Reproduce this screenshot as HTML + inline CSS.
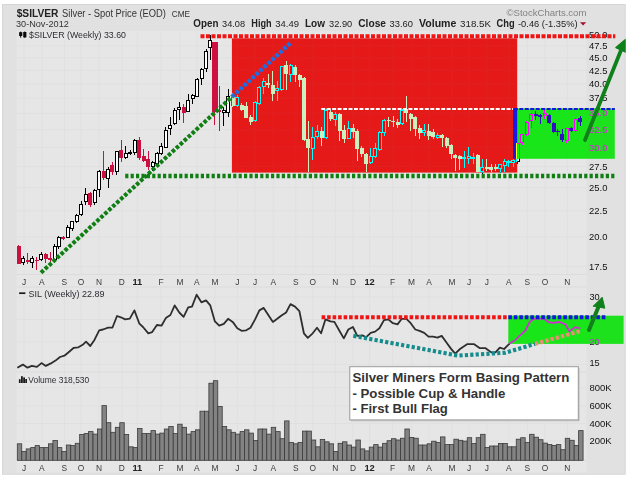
<!DOCTYPE html>
<html><head><meta charset="utf-8"><title>$SILVER</title>
<style>
html,body{margin:0;padding:0;background:#fff;}
body{width:629px;height:480px;overflow:hidden;font-family:"Liberation Sans",sans-serif;}
svg{display:block;isolation:isolate;font-family:"Liberation Sans",sans-serif;}
</style></head><body>
<svg width="629" height="480" viewBox="0 0 629 480">
<rect x="0" y="0" width="629" height="480" fill="#fff"/>
<rect x="2.5" y="4.5" width="622.7" height="469.7" fill="#e1e1e1" stroke="#d6d6d6" stroke-width="1"/>
<rect x="16.5" y="30.8" width="570.0" height="441.7" fill="#e6e6e6"/>
<path d="M24.0 31V274.5M24.0 287V460.5M41.7 31V274.5M41.7 287V460.5M64.4 31V274.5M64.4 287V460.5M81.0 31V274.5M81.0 287V460.5M99.0 31V274.5M99.0 287V460.5M121.7 31V274.5M121.7 287V460.5M137.3 31V274.5M137.3 287V460.5M161.0 31V274.5M161.0 287V460.5M180.0 31V274.5M180.0 287V460.5M196.7 31V274.5M196.7 287V460.5M215.0 31V274.5M215.0 287V460.5M237.4 31V274.5M237.4 287V460.5M255.0 31V274.5M255.0 287V460.5M273.4 31V274.5M273.4 287V460.5M295.8 31V274.5M295.8 287V460.5M312.8 31V274.5M312.8 287V460.5M335.2 31V274.5M335.2 287V460.5M353.0 31V274.5M353.0 287V460.5M369.6 31V274.5M369.6 287V460.5M392.6 31V274.5M392.6 287V460.5M411.6 31V274.5M411.6 287V460.5M429.0 31V274.5M429.0 287V460.5M452.0 31V274.5M452.0 287V460.5M469.0 31V274.5M469.0 287V460.5M486.8 31V274.5M486.8 287V460.5M508.8 31V274.5M508.8 287V460.5M527.4 31V274.5M527.4 287V460.5M545.0 31V274.5M545.0 287V460.5M567.4 31V274.5M567.4 287V460.5M16.5 45.7H586.5M16.5 57.7H586.5M16.5 70.3H586.5M16.5 83.7H586.5M16.5 98.0H586.5M16.5 113.2H586.5M16.5 129.6H586.5M16.5 147.3H586.5M16.5 166.5H586.5M16.5 187.6H586.5M16.5 210.9H586.5M16.5 236.9H586.5M16.5 266.4H586.5M16.5 297H586.5M16.5 319.5H586.5M16.5 342H586.5M16.5 364.5H586.5M16.5 387.6H586.5M16.5 406H586.5M16.5 423.5H586.5M16.5 441.1H586.5" stroke="#e0e0e0" stroke-width="1" fill="none"/>
<path d="M16.5 274.5H586.5M16.5 287H586.5M16.5 372H586.5M16.5 460.5H586.5" stroke="#dcdcdc" stroke-width="1" fill="none"/>
<g fill="#838383" stroke="#3a3a3a" stroke-width="0.8"><rect x="17.30" y="443.8" width="4.455" height="16.5"/><rect x="21.76" y="451.4" width="4.455" height="8.9"/><rect x="26.21" y="448.9" width="4.455" height="11.4"/><rect x="30.66" y="447.6" width="4.455" height="12.7"/><rect x="35.12" y="445.6" width="4.455" height="14.7"/><rect x="39.58" y="447.6" width="4.455" height="12.7"/><rect x="44.03" y="447.6" width="4.455" height="12.7"/><rect x="48.48" y="443.8" width="4.455" height="16.5"/><rect x="52.94" y="440.5" width="4.455" height="19.8"/><rect x="57.39" y="447.6" width="4.455" height="12.7"/><rect x="61.85" y="451.4" width="4.455" height="8.9"/><rect x="66.31" y="445.0" width="4.455" height="15.3"/><rect x="70.76" y="445.6" width="4.455" height="14.7"/><rect x="75.22" y="443.3" width="4.455" height="17.0"/><rect x="79.67" y="434.4" width="4.455" height="25.9"/><rect x="84.12" y="433.6" width="4.455" height="26.7"/><rect x="88.58" y="431.6" width="4.455" height="28.7"/><rect x="93.03" y="434.1" width="4.455" height="26.2"/><rect x="97.49" y="429.0" width="4.455" height="31.3"/><rect x="101.94" y="405.6" width="4.455" height="54.7"/><rect x="106.40" y="422.7" width="4.455" height="37.6"/><rect x="110.86" y="432.3" width="4.455" height="28.0"/><rect x="115.31" y="427.3" width="4.455" height="33.0"/><rect x="119.77" y="422.7" width="4.455" height="37.6"/><rect x="124.22" y="434.4" width="4.455" height="25.9"/><rect x="128.68" y="446.8" width="4.455" height="13.5"/><rect x="133.13" y="447.6" width="4.455" height="12.7"/><rect x="137.59" y="428.5" width="4.455" height="31.8"/><rect x="142.04" y="433.6" width="4.455" height="26.7"/><rect x="146.50" y="433.6" width="4.455" height="26.7"/><rect x="150.95" y="430.6" width="4.455" height="29.7"/><rect x="155.41" y="434.1" width="4.455" height="26.2"/><rect x="159.86" y="433.1" width="4.455" height="27.2"/><rect x="164.32" y="429.0" width="4.455" height="31.3"/><rect x="168.77" y="426.5" width="4.455" height="33.8"/><rect x="173.23" y="433.6" width="4.455" height="26.7"/><rect x="177.68" y="424.2" width="4.455" height="36.1"/><rect x="182.14" y="427.3" width="4.455" height="33.0"/><rect x="186.59" y="434.1" width="4.455" height="26.2"/><rect x="191.05" y="431.6" width="4.455" height="28.7"/><rect x="195.50" y="429.8" width="4.455" height="30.5"/><rect x="199.96" y="411.2" width="4.455" height="49.1"/><rect x="204.41" y="411.2" width="4.455" height="49.1"/><rect x="208.87" y="383.2" width="4.455" height="77.1"/><rect x="213.32" y="380.7" width="4.455" height="79.6"/><rect x="217.78" y="406.4" width="4.455" height="53.9"/><rect x="222.23" y="426.5" width="4.455" height="33.8"/><rect x="226.69" y="429.8" width="4.455" height="30.5"/><rect x="231.14" y="432.3" width="4.455" height="28.0"/><rect x="235.60" y="434.1" width="4.455" height="26.2"/><rect x="240.05" y="431.6" width="4.455" height="28.7"/><rect x="244.51" y="429.8" width="4.455" height="30.5"/><rect x="248.96" y="433.1" width="4.455" height="27.2"/><rect x="253.42" y="440.5" width="4.455" height="19.8"/><rect x="257.87" y="429.0" width="4.455" height="31.3"/><rect x="262.32" y="429.0" width="4.455" height="31.3"/><rect x="266.78" y="434.1" width="4.455" height="26.2"/><rect x="271.24" y="427.3" width="4.455" height="33.0"/><rect x="275.69" y="431.6" width="4.455" height="28.7"/><rect x="280.15" y="438.7" width="4.455" height="21.6"/><rect x="284.60" y="420.9" width="4.455" height="39.4"/><rect x="289.06" y="442.5" width="4.455" height="17.8"/><rect x="293.51" y="443.8" width="4.455" height="16.5"/><rect x="297.97" y="442.5" width="4.455" height="17.8"/><rect x="302.42" y="431.1" width="4.455" height="29.2"/><rect x="306.88" y="431.1" width="4.455" height="29.2"/><rect x="311.33" y="440.0" width="4.455" height="20.3"/><rect x="315.79" y="446.8" width="4.455" height="13.5"/><rect x="320.24" y="439.5" width="4.455" height="20.8"/><rect x="324.69" y="441.8" width="4.455" height="18.5"/><rect x="329.15" y="443.8" width="4.455" height="16.5"/><rect x="333.61" y="451.4" width="4.455" height="8.9"/><rect x="338.06" y="443.3" width="4.455" height="17.0"/><rect x="342.52" y="441.8" width="4.455" height="18.5"/><rect x="346.97" y="445.0" width="4.455" height="15.3"/><rect x="351.43" y="447.1" width="4.455" height="13.2"/><rect x="355.88" y="440.0" width="4.455" height="20.3"/><rect x="360.34" y="448.9" width="4.455" height="11.4"/><rect x="364.79" y="450.9" width="4.455" height="9.4"/><rect x="369.25" y="447.1" width="4.455" height="13.2"/><rect x="373.70" y="444.6" width="4.455" height="15.7"/><rect x="378.16" y="447.1" width="4.455" height="13.2"/><rect x="382.61" y="443.3" width="4.455" height="17.0"/><rect x="387.06" y="440.7" width="4.455" height="19.6"/><rect x="391.52" y="438.7" width="4.455" height="21.6"/><rect x="395.98" y="440.0" width="4.455" height="20.3"/><rect x="400.43" y="438.2" width="4.455" height="22.1"/><rect x="404.88" y="429.0" width="4.455" height="31.3"/><rect x="409.34" y="437.4" width="4.455" height="22.9"/><rect x="413.80" y="438.2" width="4.455" height="22.1"/><rect x="418.25" y="445.0" width="4.455" height="15.3"/><rect x="422.71" y="445.0" width="4.455" height="15.3"/><rect x="427.16" y="443.8" width="4.455" height="16.5"/><rect x="431.62" y="441.2" width="4.455" height="19.1"/><rect x="436.07" y="442.5" width="4.455" height="17.8"/><rect x="440.53" y="436.9" width="4.455" height="23.4"/><rect x="444.98" y="444.6" width="4.455" height="15.7"/><rect x="449.44" y="444.6" width="4.455" height="15.7"/><rect x="453.89" y="439.2" width="4.455" height="21.1"/><rect x="458.35" y="440.3" width="4.455" height="20.0"/><rect x="462.80" y="441.1" width="4.455" height="19.2"/><rect x="467.25" y="437.7" width="4.455" height="22.6"/><rect x="471.71" y="443.4" width="4.455" height="16.9"/><rect x="476.17" y="437.7" width="4.455" height="22.6"/><rect x="480.62" y="434.3" width="4.455" height="26.0"/><rect x="485.08" y="447.4" width="4.455" height="12.9"/><rect x="489.53" y="446.0" width="4.455" height="14.3"/><rect x="493.99" y="446.0" width="4.455" height="14.3"/><rect x="498.44" y="443.4" width="4.455" height="16.9"/><rect x="502.90" y="443.4" width="4.455" height="16.9"/><rect x="507.35" y="446.8" width="4.455" height="13.5"/><rect x="511.81" y="446.8" width="4.455" height="13.5"/><rect x="516.26" y="439.2" width="4.455" height="21.1"/><rect x="520.72" y="437.7" width="4.455" height="22.6"/><rect x="525.17" y="442.6" width="4.455" height="17.7"/><rect x="529.62" y="434.3" width="4.455" height="26.0"/><rect x="534.08" y="437.2" width="4.455" height="23.1"/><rect x="538.53" y="439.7" width="4.455" height="20.6"/><rect x="542.99" y="443.1" width="4.455" height="17.2"/><rect x="547.44" y="444.6" width="4.455" height="15.7"/><rect x="551.90" y="445.4" width="4.455" height="14.9"/><rect x="556.36" y="444.6" width="4.455" height="15.7"/><rect x="560.81" y="449.7" width="4.455" height="10.6"/><rect x="565.26" y="438.3" width="4.455" height="22.0"/><rect x="569.72" y="440.3" width="4.455" height="20.0"/><rect x="574.17" y="445.4" width="4.455" height="14.9"/><rect x="578.63" y="430.6" width="4.455" height="29.7"/></g>
<g shape-rendering="crispEdges"><path d="M18.90 245.0V264.0" stroke="#cc1040" stroke-width="1"/><rect x="16.90" y="246.4" width="4.0" height="17.2" fill="#cc1040"/><path d="M23.35 256.0V258.5M23.35 262.0V265.0" stroke="#000" stroke-width="1"/><rect x="21.85" y="258.5" width="3.0" height="3.5" fill="#fff" stroke="#000" stroke-width="1"/><path d="M27.81 253.0V264.0" stroke="#cc1040" stroke-width="1"/><rect x="25.81" y="260.0" width="4.0" height="2.0" fill="#cc1040"/><path d="M32.27 256.0V258.5M32.27 262.0V268.0" stroke="#000" stroke-width="1"/><rect x="30.77" y="258.5" width="3.0" height="3.5" fill="#fff" stroke="#000" stroke-width="1"/><path d="M36.72 257.0V270.0" stroke="#cc1040" stroke-width="1"/><rect x="34.72" y="260.0" width="4.0" height="1.3" fill="#cc1040"/><path d="M41.17 252.0V254.4M41.17 259.7V260.5" stroke="#000" stroke-width="1"/><rect x="39.67" y="254.4" width="3.0" height="5.3" fill="#fff" stroke="#000" stroke-width="1"/><path d="M45.63 253.0V263.0" stroke="#cc1040" stroke-width="1"/><rect x="43.63" y="254.0" width="4.0" height="5.0" fill="#cc1040"/><path d="M50.09 252.0V262.0" stroke="#cc1040" stroke-width="1"/><rect x="48.09" y="258.0" width="4.0" height="2.3" fill="#cc1040"/><path d="M54.54 244.0V246.9M54.54 259.0V260.0" stroke="#000" stroke-width="1"/><rect x="53.04" y="246.9" width="3.0" height="12.1" fill="#fff" stroke="#000" stroke-width="1"/><path d="M58.99 236.0V237.2M58.99 246.4V249.0" stroke="#000" stroke-width="1"/><rect x="57.49" y="237.2" width="3.0" height="9.2" fill="#fff" stroke="#000" stroke-width="1"/><path d="M63.45 236.0V240.0" stroke="#cc1040" stroke-width="1"/><rect x="61.45" y="237.0" width="4.0" height="1.5" fill="#cc1040"/><path d="M67.91 225.0V227.6M67.91 237.2V238.0" stroke="#000" stroke-width="1"/><rect x="66.41" y="227.6" width="3.0" height="9.6" fill="#fff" stroke="#000" stroke-width="1"/><path d="M72.36 221.0V221.9M72.36 228.0V231.0" stroke="#000" stroke-width="1"/><rect x="70.86" y="221.9" width="3.0" height="6.1" fill="#fff" stroke="#000" stroke-width="1"/><path d="M76.81 214.0V215.5M76.81 221.2V223.0" stroke="#000" stroke-width="1"/><rect x="75.31" y="215.5" width="3.0" height="5.7" fill="#fff" stroke="#000" stroke-width="1"/><path d="M81.27 201.0V204.0M81.27 214.3V216.0" stroke="#000" stroke-width="1"/><rect x="79.77" y="204.0" width="3.0" height="10.3" fill="#fff" stroke="#000" stroke-width="1"/><path d="M85.72 188.0V194.2M85.72 201.8V205.0" stroke="#000" stroke-width="1"/><rect x="84.22" y="194.2" width="3.0" height="7.6" fill="#fff" stroke="#000" stroke-width="1"/><path d="M90.18 192.0V207.0" stroke="#cc1040" stroke-width="1"/><rect x="88.18" y="193.3" width="4.0" height="11.4" fill="#cc1040"/><path d="M94.63 189.0V190.5M94.63 202.5V205.0" stroke="#000" stroke-width="1"/><rect x="93.13" y="190.5" width="3.0" height="12.0" fill="#fff" stroke="#000" stroke-width="1"/><path d="M99.09 170.0V171.8M99.09 189.7V196.6" stroke="#000" stroke-width="1"/><rect x="97.59" y="171.8" width="3.0" height="17.9" fill="#fff" stroke="#000" stroke-width="1"/><path d="M103.54 151.2V180.0" stroke="#cc1040" stroke-width="1"/><rect x="101.54" y="171.4" width="4.0" height="6.8" fill="#cc1040"/><path d="M108.00 167.0V169.2M108.00 178.7V187.9" stroke="#000" stroke-width="1"/><rect x="106.50" y="169.2" width="3.0" height="9.5" fill="#fff" stroke="#000" stroke-width="1"/><path d="M112.46 162.2V175.3" stroke="#cc1040" stroke-width="1"/><rect x="110.46" y="164.5" width="4.0" height="7.8" fill="#cc1040"/><path d="M116.91 150.8V151.9M116.91 171.8V174.6" stroke="#000" stroke-width="1"/><rect x="115.41" y="151.9" width="3.0" height="19.9" fill="#fff" stroke="#000" stroke-width="1"/><path d="M121.37 140.2V162.2" stroke="#cc1040" stroke-width="1"/><rect x="119.37" y="150.0" width="4.0" height="7.6" fill="#cc1040"/><path d="M125.82 146.2V153.5M125.82 157.4V159.2" stroke="#000" stroke-width="1"/><rect x="124.32" y="153.5" width="3.0" height="3.9" fill="#fff" stroke="#000" stroke-width="1"/><path d="M130.28 150.0V152.0M130.28 153.2V155.3" stroke="#000" stroke-width="1"/><rect x="128.78" y="152.0" width="3.0" height="1.2" fill="#fff" stroke="#000" stroke-width="1"/><path d="M134.73 139.0V140.2M134.73 152.8V155.0" stroke="#000" stroke-width="1"/><rect x="133.23" y="140.2" width="3.0" height="12.6" fill="#fff" stroke="#000" stroke-width="1"/><path d="M139.19 137.0V160.0" stroke="#cc1040" stroke-width="1"/><rect x="137.19" y="139.8" width="4.0" height="17.8" fill="#cc1040"/><path d="M143.64 148.5V162.2" stroke="#cc1040" stroke-width="1"/><rect x="141.64" y="155.8" width="4.0" height="5.0" fill="#cc1040"/><path d="M148.09 151.2V170.0" stroke="#cc1040" stroke-width="1"/><rect x="146.09" y="158.5" width="4.0" height="8.7" fill="#cc1040"/><path d="M152.55 161.0V162.7M152.55 166.6V171.4" stroke="#000" stroke-width="1"/><rect x="151.05" y="162.7" width="3.0" height="3.9" fill="#fff" stroke="#000" stroke-width="1"/><path d="M157.00 152.0V153.5M157.00 163.1V167.2" stroke="#000" stroke-width="1"/><rect x="155.50" y="153.5" width="3.0" height="9.6" fill="#fff" stroke="#000" stroke-width="1"/><path d="M161.46 143.2V146.2M161.46 153.5V155.0" stroke="#000" stroke-width="1"/><rect x="159.96" y="146.2" width="3.0" height="7.3" fill="#fff" stroke="#000" stroke-width="1"/><path d="M165.92 127.2V130.2M165.92 147.1V148.0" stroke="#000" stroke-width="1"/><rect x="164.42" y="130.2" width="3.0" height="16.9" fill="#fff" stroke="#000" stroke-width="1"/><path d="M170.37 117.0V125.8M170.37 128.0V134.5" stroke="#000" stroke-width="1"/><rect x="168.87" y="125.8" width="3.0" height="2.2" fill="#fff" stroke="#000" stroke-width="1"/><path d="M174.83 108.0V110.2M174.83 123.8V125.0" stroke="#000" stroke-width="1"/><rect x="173.33" y="110.2" width="3.0" height="13.6" fill="#fff" stroke="#000" stroke-width="1"/><path d="M179.28 101.9V107.0M179.28 109.2V120.0" stroke="#000" stroke-width="1"/><rect x="177.78" y="107.0" width="3.0" height="2.2" fill="#fff" stroke="#000" stroke-width="1"/><path d="M183.74 103.5V122.5" stroke="#cc1040" stroke-width="1"/><rect x="181.74" y="107.0" width="4.0" height="6.0" fill="#cc1040"/><path d="M188.19 93.5V100.4M188.19 111.3V112.0" stroke="#000" stroke-width="1"/><rect x="186.69" y="100.4" width="3.0" height="10.9" fill="#fff" stroke="#000" stroke-width="1"/><path d="M192.65 94.2V95.6M192.65 98.3V104.0" stroke="#000" stroke-width="1"/><rect x="191.15" y="95.6" width="3.0" height="2.7" fill="#fff" stroke="#000" stroke-width="1"/><path d="M197.10 77.9V79.6M197.10 96.3V97.0" stroke="#000" stroke-width="1"/><rect x="195.60" y="79.6" width="3.0" height="16.7" fill="#fff" stroke="#000" stroke-width="1"/><path d="M201.56 67.5V69.2M201.56 78.3V84.6" stroke="#000" stroke-width="1"/><rect x="200.06" y="69.2" width="3.0" height="9.1" fill="#fff" stroke="#000" stroke-width="1"/><path d="M206.01 49.2V51.5M206.01 68.1V71.7" stroke="#000" stroke-width="1"/><rect x="204.51" y="51.5" width="3.0" height="16.6" fill="#fff" stroke="#000" stroke-width="1"/><path d="M210.47 34.6V40.4M210.47 47.3V60.2" stroke="#000" stroke-width="1"/><rect x="208.97" y="40.4" width="3.0" height="6.9" fill="#fff" stroke="#000" stroke-width="1"/><path d="M214.92 42.0V124.8" stroke="#cc1040" stroke-width="1"/><rect x="212.32" y="42.1" width="5.2" height="69.6" fill="#cc1040"/><path d="M219.38 86.2V130.6" stroke="#cc1040" stroke-width="1"/><rect x="217.38" y="110.0" width="4.0" height="2.0" fill="#cc1040"/><path d="M223.83 106.9V110.7M223.83 112.2V126.3" stroke="#000" stroke-width="1"/><rect x="222.33" y="110.7" width="3.0" height="1.5" fill="#fff" stroke="#000" stroke-width="1"/><path d="M228.28 89.4V96.3M228.28 112.9V117.0" stroke="#000" stroke-width="1"/><rect x="226.78" y="96.3" width="3.0" height="16.6" fill="#fff" stroke="#000" stroke-width="1"/><path d="M232.74 93.0V107.0" stroke="#cc1040" stroke-width="1"/><rect x="230.74" y="97.0" width="4.0" height="9.0" fill="#cc1040"/><path d="M237.20 95.0V97.0M237.20 105.0V107.0" stroke="#000" stroke-width="1"/><rect x="235.70" y="97.0" width="3.0" height="8.0" fill="#fff" stroke="#000" stroke-width="1"/><path d="M241.65 103.0V111.0" stroke="#cc1040" stroke-width="1"/><rect x="239.65" y="105.0" width="4.0" height="4.7" fill="#cc1040"/><path d="M246.11 102.0V118.0" stroke="#cc1040" stroke-width="1"/><rect x="244.11" y="106.0" width="4.0" height="11.5" fill="#cc1040"/><path d="M250.56 115.0V125.3" stroke="#cc1040" stroke-width="1"/><rect x="248.56" y="116.9" width="4.0" height="5.3" fill="#cc1040"/><path d="M255.02 101.0V102.5M255.02 120.6V122.0" stroke="#000" stroke-width="1"/><rect x="253.52" y="102.5" width="3.0" height="18.1" fill="#fff" stroke="#000" stroke-width="1"/><path d="M259.47 86.0V87.2M259.47 103.4V105.0" stroke="#000" stroke-width="1"/><rect x="257.97" y="87.2" width="3.0" height="16.2" fill="#fff" stroke="#000" stroke-width="1"/><path d="M263.93 78.4V81.6M263.93 86.9V94.0" stroke="#000" stroke-width="1"/><rect x="262.43" y="81.6" width="3.0" height="5.3" fill="#fff" stroke="#000" stroke-width="1"/><path d="M268.38 73.8V88.0" stroke="#cc1040" stroke-width="1"/><rect x="266.38" y="82.5" width="4.0" height="2.5" fill="#cc1040"/><path d="M272.83 70.6V101.2" stroke="#cc1040" stroke-width="1"/><rect x="270.83" y="84.7" width="4.0" height="9.3" fill="#cc1040"/><path d="M277.29 80.8V88.3M277.29 90.0V100.8" stroke="#000" stroke-width="1"/><rect x="275.79" y="88.3" width="3.0" height="1.7" fill="#fff" stroke="#000" stroke-width="1"/><path d="M281.75 65.5V66.9M281.75 89.4V91.0" stroke="#000" stroke-width="1"/><rect x="280.25" y="66.9" width="3.0" height="22.5" fill="#fff" stroke="#000" stroke-width="1"/><path d="M286.20 60.8V90.0" stroke="#cc1040" stroke-width="1"/><rect x="284.20" y="64.8" width="4.0" height="8.7" fill="#cc1040"/><path d="M290.65 64.0V65.8M290.65 74.3V81.7" stroke="#000" stroke-width="1"/><rect x="289.15" y="65.8" width="3.0" height="8.5" fill="#fff" stroke="#000" stroke-width="1"/><path d="M295.11 65.0V81.7" stroke="#cc1040" stroke-width="1"/><rect x="293.11" y="66.8" width="4.0" height="8.4" fill="#cc1040"/><path d="M299.56 74.0V86.7" stroke="#cc1040" stroke-width="1"/><rect x="297.56" y="75.2" width="4.0" height="4.6" fill="#cc1040"/><path d="M304.02 77.0V141.0" stroke="#cc1040" stroke-width="1"/><rect x="302.02" y="78.4" width="4.0" height="61.6" fill="#cc1040"/><path d="M308.47 120.6V172.0" stroke="#cc1040" stroke-width="1"/><rect x="306.47" y="139.4" width="4.0" height="8.6" fill="#cc1040"/><path d="M312.93 126.9V137.8M312.93 148.0V159.7" stroke="#000" stroke-width="1"/><rect x="311.43" y="137.8" width="3.0" height="10.2" fill="#fff" stroke="#000" stroke-width="1"/><path d="M317.38 125.3V131.6M317.38 136.9V139.0" stroke="#000" stroke-width="1"/><rect x="315.88" y="131.6" width="3.0" height="5.3" fill="#fff" stroke="#000" stroke-width="1"/><path d="M321.84 126.9V145.6" stroke="#cc1040" stroke-width="1"/><rect x="319.84" y="130.6" width="4.0" height="7.2" fill="#cc1040"/><path d="M326.29 109.0V110.6M326.29 137.8V139.0" stroke="#000" stroke-width="1"/><rect x="324.79" y="110.6" width="3.0" height="27.2" fill="#fff" stroke="#000" stroke-width="1"/><path d="M330.75 110.0V121.0" stroke="#cc1040" stroke-width="1"/><rect x="328.75" y="111.9" width="4.0" height="7.1" fill="#cc1040"/><path d="M335.20 112.0V114.0M335.20 119.6V126.0" stroke="#000" stroke-width="1"/><rect x="333.70" y="114.0" width="3.0" height="5.6" fill="#fff" stroke="#000" stroke-width="1"/><path d="M339.66 113.0V140.5" stroke="#cc1040" stroke-width="1"/><rect x="337.66" y="114.2" width="4.0" height="16.4" fill="#cc1040"/><path d="M344.12 124.7V142.5" stroke="#cc1040" stroke-width="1"/><rect x="342.12" y="129.6" width="4.0" height="8.9" fill="#cc1040"/><path d="M348.57 120.7V128.0M348.57 138.0V139.0" stroke="#000" stroke-width="1"/><rect x="347.07" y="128.0" width="3.0" height="10.0" fill="#fff" stroke="#000" stroke-width="1"/><path d="M353.02 123.7V137.5" stroke="#cc1040" stroke-width="1"/><rect x="351.02" y="128.0" width="4.0" height="4.0" fill="#cc1040"/><path d="M357.48 129.0V161.3" stroke="#cc1040" stroke-width="1"/><rect x="355.48" y="130.6" width="4.0" height="18.8" fill="#cc1040"/><path d="M361.94 146.4V157.3" stroke="#cc1040" stroke-width="1"/><rect x="359.94" y="148.4" width="4.0" height="6.0" fill="#cc1040"/><path d="M366.39 153.0V172.2" stroke="#cc1040" stroke-width="1"/><rect x="364.39" y="153.8" width="4.0" height="10.5" fill="#cc1040"/><path d="M370.84 148.4V156.9M370.84 162.9V164.0" stroke="#000" stroke-width="1"/><rect x="369.34" y="156.9" width="3.0" height="6.0" fill="#fff" stroke="#000" stroke-width="1"/><path d="M375.30 142.5V148.4M375.30 156.9V158.3" stroke="#000" stroke-width="1"/><rect x="373.80" y="148.4" width="3.0" height="8.5" fill="#fff" stroke="#000" stroke-width="1"/><path d="M379.75 131.0V132.2M379.75 149.4V151.4" stroke="#000" stroke-width="1"/><rect x="378.25" y="132.2" width="3.0" height="17.2" fill="#fff" stroke="#000" stroke-width="1"/><path d="M384.21 119.3V120.1M384.21 132.0V136.0" stroke="#000" stroke-width="1"/><rect x="382.71" y="120.1" width="3.0" height="11.9" fill="#fff" stroke="#000" stroke-width="1"/><path d="M388.66 116.7V126.6" stroke="#cc1040" stroke-width="1"/><rect x="386.66" y="119.7" width="4.0" height="1.6" fill="#cc1040"/><path d="M393.12 115.7V126.6" stroke="#cc1040" stroke-width="1"/><rect x="391.12" y="120.5" width="4.0" height="1.2" fill="#cc1040"/><path d="M397.57 118.7V128.0" stroke="#cc1040" stroke-width="1"/><rect x="395.57" y="121.7" width="4.0" height="3.5" fill="#cc1040"/><path d="M402.03 109.0V110.2M402.03 123.7V125.0" stroke="#000" stroke-width="1"/><rect x="400.53" y="110.2" width="3.0" height="13.5" fill="#fff" stroke="#000" stroke-width="1"/><path d="M406.48 96.0V121.7" stroke="#cc1040" stroke-width="1"/><rect x="404.48" y="109.2" width="4.0" height="3.6" fill="#cc1040"/><path d="M410.94 112.8V130.6" stroke="#cc1040" stroke-width="1"/><rect x="408.94" y="113.8" width="4.0" height="4.9" fill="#cc1040"/><path d="M415.39 115.5V135.5" stroke="#cc1040" stroke-width="1"/><rect x="413.39" y="116.7" width="4.0" height="11.9" fill="#cc1040"/><path d="M419.85 124.7V138.5" stroke="#cc1040" stroke-width="1"/><rect x="417.85" y="127.6" width="4.0" height="5.0" fill="#cc1040"/><path d="M424.31 123.7V130.6M424.31 132.6V135.5" stroke="#000" stroke-width="1"/><rect x="422.81" y="130.6" width="3.0" height="2.0" fill="#fff" stroke="#000" stroke-width="1"/><path d="M428.76 123.7V139.5" stroke="#cc1040" stroke-width="1"/><rect x="426.76" y="130.6" width="4.0" height="4.9" fill="#cc1040"/><path d="M433.21 128.6V139.1" stroke="#cc1040" stroke-width="1"/><rect x="431.21" y="132.2" width="4.0" height="4.3" fill="#cc1040"/><path d="M437.67 132.6V135.1M437.67 137.5V139.0" stroke="#000" stroke-width="1"/><rect x="436.17" y="135.1" width="3.0" height="2.4" fill="#fff" stroke="#000" stroke-width="1"/><path d="M442.12 134.0V147.4" stroke="#cc1040" stroke-width="1"/><rect x="440.12" y="135.1" width="4.0" height="3.0" fill="#cc1040"/><path d="M446.58 136.5V148.4" stroke="#cc1040" stroke-width="1"/><rect x="444.58" y="137.5" width="4.0" height="8.5" fill="#cc1040"/><path d="M451.03 143.5V159.3" stroke="#cc1040" stroke-width="1"/><rect x="449.03" y="144.5" width="4.0" height="9.9" fill="#cc1040"/><path d="M455.49 154.0V171.0" stroke="#cc1040" stroke-width="1"/><rect x="453.49" y="155.4" width="4.0" height="3.0" fill="#cc1040"/><path d="M459.94 155.0V170.0" stroke="#cc1040" stroke-width="1"/><rect x="457.94" y="156.0" width="4.0" height="3.2" fill="#cc1040"/><path d="M464.40 151.3V157.3M464.40 158.5V168.2" stroke="#000" stroke-width="1"/><rect x="462.90" y="157.3" width="3.0" height="1.2" fill="#fff" stroke="#000" stroke-width="1"/><path d="M468.85 146.6V156.9M468.85 158.1V164.4" stroke="#000" stroke-width="1"/><rect x="467.35" y="156.9" width="3.0" height="1.2" fill="#fff" stroke="#000" stroke-width="1"/><path d="M473.31 153.2V157.3M473.31 158.5V163.5" stroke="#000" stroke-width="1"/><rect x="471.81" y="157.3" width="3.0" height="1.2" fill="#fff" stroke="#000" stroke-width="1"/><path d="M477.76 154.0V172.5" stroke="#cc1040" stroke-width="1"/><rect x="475.76" y="155.0" width="4.0" height="16.9" fill="#cc1040"/><path d="M482.22 158.8V167.2M482.22 171.0V177.6" stroke="#000" stroke-width="1"/><rect x="480.72" y="167.2" width="3.0" height="3.8" fill="#fff" stroke="#000" stroke-width="1"/><path d="M486.68 158.8V171.0" stroke="#cc1040" stroke-width="1"/><rect x="484.68" y="166.7" width="4.0" height="1.8" fill="#cc1040"/><path d="M491.13 164.4V172.9" stroke="#cc1040" stroke-width="1"/><rect x="489.13" y="167.2" width="4.0" height="2.8" fill="#cc1040"/><path d="M495.58 164.4V171.0" stroke="#cc1040" stroke-width="1"/><rect x="493.58" y="167.2" width="4.0" height="1.3" fill="#cc1040"/><path d="M500.04 163.5V164.8M500.04 168.5V172.9" stroke="#000" stroke-width="1"/><rect x="498.54" y="164.8" width="3.0" height="3.7" fill="#fff" stroke="#000" stroke-width="1"/><path d="M504.50 158.8V161.6M504.50 165.4V171.9" stroke="#000" stroke-width="1"/><rect x="503.00" y="161.6" width="3.0" height="3.8" fill="#fff" stroke="#000" stroke-width="1"/><path d="M508.95 159.7V161.0M508.95 162.9V167.2" stroke="#000" stroke-width="1"/><rect x="507.45" y="161.0" width="3.0" height="1.9" fill="#fff" stroke="#000" stroke-width="1"/><path d="M513.40 158.8V160.7M513.40 162.5V167.2" stroke="#000" stroke-width="1"/><rect x="511.90" y="160.7" width="3.0" height="1.8" fill="#fff" stroke="#000" stroke-width="1"/><path d="M517.86 142.0V143.0M517.86 161.0V163.5" stroke="#000" stroke-width="1"/><rect x="516.36" y="143.0" width="3.0" height="18.0" fill="#fff" stroke="#000" stroke-width="1"/><path d="M522.32 133.5V134.5M522.32 142.4V145.4" stroke="#000" stroke-width="1"/><rect x="520.82" y="134.5" width="3.0" height="7.9" fill="#fff" stroke="#000" stroke-width="1"/><path d="M526.77 121.0V122.0M526.77 134.7V136.0" stroke="#000" stroke-width="1"/><rect x="525.27" y="122.0" width="3.0" height="12.7" fill="#fff" stroke="#000" stroke-width="1"/><path d="M531.23 112.5V114.0M531.23 120.8V128.2" stroke="#000" stroke-width="1"/><rect x="529.73" y="114.0" width="3.0" height="6.8" fill="#fff" stroke="#000" stroke-width="1"/><path d="M535.68 111.4V120.0" stroke="#cc1040" stroke-width="1"/><rect x="533.68" y="114.4" width="4.0" height="1.2" fill="#cc1040"/><path d="M540.13 113.5V123.8" stroke="#cc1040" stroke-width="1"/><rect x="538.13" y="115.4" width="4.0" height="1.2" fill="#cc1040"/><path d="M544.59 109.8V113.9M544.59 115.1V118.7" stroke="#000" stroke-width="1"/><rect x="543.09" y="113.9" width="3.0" height="1.2" fill="#fff" stroke="#000" stroke-width="1"/><path d="M549.04 113.8V123.5" stroke="#cc1040" stroke-width="1"/><rect x="547.04" y="114.8" width="4.0" height="7.9" fill="#cc1040"/><path d="M553.50 121.7V132.5" stroke="#cc1040" stroke-width="1"/><rect x="551.50" y="122.7" width="4.0" height="8.9" fill="#cc1040"/><path d="M557.96 128.6V135.5" stroke="#cc1040" stroke-width="1"/><rect x="555.96" y="131.0" width="4.0" height="1.2" fill="#cc1040"/><path d="M562.41 128.6V141.5" stroke="#cc1040" stroke-width="1"/><rect x="560.41" y="133.6" width="4.0" height="6.5" fill="#cc1040"/><path d="M566.87 127.5V128.6M566.87 140.5V142.5" stroke="#000" stroke-width="1"/><rect x="565.37" y="128.6" width="3.0" height="11.9" fill="#fff" stroke="#000" stroke-width="1"/><path d="M571.32 127.0V132.0" stroke="#cc1040" stroke-width="1"/><rect x="569.32" y="128.2" width="4.0" height="2.4" fill="#cc1040"/><path d="M575.77 118.0V119.1M575.77 130.2V131.5" stroke="#000" stroke-width="1"/><rect x="574.27" y="119.1" width="3.0" height="11.1" fill="#fff" stroke="#000" stroke-width="1"/><path d="M580.23 115.8V125.7" stroke="#cc1040" stroke-width="1"/><rect x="578.23" y="118.2" width="4.0" height="3.5" fill="#cc1040"/></g>
<polyline fill="none" stroke="#2e2e2e" stroke-width="1.8" stroke-linejoin="round" points="17.3,367.7 22.9,364.6 27.5,367.7 31.8,365.9 36.9,366.9 41.5,363.1 45.8,365.9 50.9,363.4 55.5,360.6 60,357 64.4,355.7 69.2,351.7 73.8,347.8 78.4,347.3 82.7,344.8 86,341.7 90.3,346 94.6,339.7 99.2,330.3 103,329.5 108.1,327.7 112.5,327.5 117,316 120.9,317.3 125.2,319.4 129.8,318.6 134.4,310.4 139.4,323.7 143,327 148.3,333.3 152.2,332.1 156.9,325 161.5,325.7 165.8,318.1 170.4,315 174.7,305.4 179.3,312.5 183.6,316.8 188.2,307.4 192,306.6 196.6,294.7 201.4,302.3 206,300.3 210.3,305.4 214.9,321.4 219.2,325.7 223.8,323.9 228.1,318.8 232.7,321.9 237.3,328.3 241.6,330.8 246.2,330.3 250.5,327.7 255.1,319.4 259.4,310.4 263.7,307.9 268.3,315 272.9,321.9 277.2,318.8 281.5,315.5 286.1,312.5 290.5,304.1 295,306.6 299.4,311.2 303.9,333.3 307.8,337.9 312.7,333.3 317,327.7 321.1,333.3 325.4,319.4 330.5,321.4 334.4,321.9 339.4,330.8 343.8,338.4 348.3,329.5 352.9,327 357.3,335.9 362.3,335.4 366.2,337.2 370.7,332.8 375.1,331.6 379.4,328.3 384,320.1 388.3,319.4 392.9,323.2 397.5,324.4 401.8,318.8 406.4,318.8 410.7,323.2 415.3,329.5 419.6,330.8 424.2,332.8 428.5,336.7 433.1,336.7 437.4,337.7 441.7,335.9 446.3,342.3 450.9,348.6 455.2,353.7 460,349 467,344.2 474.2,344.2 479.9,348.2 485.6,348.2 491.3,352.4 495.5,352.4 499.8,347.6 504.1,349 509.8,343.3 515.5,339.9 519.7,335.7 525.4,330.5 529.7,322 534,318.6 543.9,318.6 548.2,322 552.4,322.8 559.6,322 565.3,324.3 569.5,331.4 575.2,327.1 580.3,328.5"/>
<g font-size="9.2" fill="#111"><text x="589" y="37.6" textLength="18.4" lengthAdjust="spacingAndGlyphs">50.0</text><text x="589" y="48.9" textLength="18.4" lengthAdjust="spacingAndGlyphs">47.5</text><text x="589" y="60.9" textLength="18.4" lengthAdjust="spacingAndGlyphs">45.0</text><text x="589" y="73.5" textLength="18.4" lengthAdjust="spacingAndGlyphs">42.5</text><text x="589" y="86.9" textLength="18.4" lengthAdjust="spacingAndGlyphs">40.0</text><text x="589" y="101.2" textLength="18.4" lengthAdjust="spacingAndGlyphs">37.5</text><text x="589" y="116.4" textLength="18.4" lengthAdjust="spacingAndGlyphs">35.0</text><text x="589" y="132.8" textLength="18.4" lengthAdjust="spacingAndGlyphs">32.5</text><text x="589" y="150.5" textLength="18.4" lengthAdjust="spacingAndGlyphs">30.0</text><text x="589" y="169.7" textLength="18.4" lengthAdjust="spacingAndGlyphs">27.5</text><text x="589" y="190.8" textLength="18.4" lengthAdjust="spacingAndGlyphs">25.0</text><text x="589" y="214.1" textLength="18.4" lengthAdjust="spacingAndGlyphs">22.5</text><text x="589" y="240.1" textLength="18.4" lengthAdjust="spacingAndGlyphs">20.0</text><text x="589" y="269.6" textLength="18.4" lengthAdjust="spacingAndGlyphs">17.5</text><text x="589.4" y="300.1">30</text><text x="589.4" y="345.1">20</text><text x="589.4" y="366.1">15</text><text x="589.4" y="390.7" textLength="22.2" lengthAdjust="spacingAndGlyphs">800K</text><text x="589.4" y="409.2" textLength="22.2" lengthAdjust="spacingAndGlyphs">600K</text><text x="589.4" y="426.9" textLength="22.2" lengthAdjust="spacingAndGlyphs">400K</text><text x="589.4" y="444.4" textLength="22.2" lengthAdjust="spacingAndGlyphs">200K</text></g>
<g font-size="8.4" fill="#3a3a3a" text-anchor="middle"><text x="24" y="285.3">J</text><text x="24" y="470.5">J</text><text x="41.7" y="285.3">A</text><text x="41.7" y="470.5">A</text><text x="64.4" y="285.3">S</text><text x="64.4" y="470.5">S</text><text x="81" y="285.3">O</text><text x="81" y="470.5">O</text><text x="99" y="285.3">N</text><text x="99" y="470.5">N</text><text x="121.7" y="285.3">D</text><text x="121.7" y="470.5">D</text><text x="137.3" y="285.3" font-weight="bold" font-size="9.3" fill="#222">11</text><text x="137.3" y="470.5" font-weight="bold" font-size="9.3" fill="#222">11</text><text x="161" y="285.3">F</text><text x="161" y="470.5">F</text><text x="180" y="285.3">M</text><text x="180" y="470.5">M</text><text x="196.7" y="285.3">A</text><text x="196.7" y="470.5">A</text><text x="215" y="285.3">M</text><text x="215" y="470.5">M</text><text x="237.4" y="285.3">J</text><text x="237.4" y="470.5">J</text><text x="255" y="285.3">J</text><text x="255" y="470.5">J</text><text x="273.4" y="285.3">A</text><text x="273.4" y="470.5">A</text><text x="295.8" y="285.3">S</text><text x="295.8" y="470.5">S</text><text x="312.8" y="285.3">O</text><text x="312.8" y="470.5">O</text><text x="335.2" y="285.3">N</text><text x="335.2" y="470.5">N</text><text x="353" y="285.3">D</text><text x="353" y="470.5">D</text><text x="369.6" y="285.3" font-weight="bold" font-size="9.3" fill="#222">12</text><text x="369.6" y="470.5" font-weight="bold" font-size="9.3" fill="#222">12</text><text x="392.6" y="285.3">F</text><text x="392.6" y="470.5">F</text><text x="411.6" y="285.3">M</text><text x="411.6" y="470.5">M</text><text x="429" y="285.3">A</text><text x="429" y="470.5">A</text><text x="452" y="285.3">M</text><text x="452" y="470.5">M</text><text x="469" y="285.3">J</text><text x="469" y="470.5">J</text><text x="486.8" y="285.3">J</text><text x="486.8" y="470.5">J</text><text x="508.8" y="285.3">A</text><text x="508.8" y="470.5">A</text><text x="527.4" y="285.3">S</text><text x="527.4" y="470.5">S</text><text x="545" y="285.3">O</text><text x="545" y="470.5">O</text><text x="567.4" y="285.3">N</text><text x="567.4" y="470.5">N</text></g>
<g fill="#222"><text x="16.7" y="16.6" font-size="10" font-weight="bold" textLength="41.8" lengthAdjust="spacingAndGlyphs">$SILVER</text><text x="62.1" y="16.6" font-size="10" fill="#333" textLength="103.9" lengthAdjust="spacingAndGlyphs">Silver - Spot Price (EOD)</text><text x="171.7" y="16.6" font-size="8.4" fill="#333" textLength="18.3" lengthAdjust="spacingAndGlyphs">CME</text><text x="16" y="27.3" font-size="9.0" fill="#333" textLength="52.8" lengthAdjust="spacingAndGlyphs">30-Nov-2012</text><text x="29" y="37.7" font-size="8.2" fill="#2c2c34" textLength="97.0" lengthAdjust="spacingAndGlyphs">$SILVER (Weekly) 33.60</text><text x="28.6" y="296.8" font-size="8.4" fill="#2c2c34" textLength="76.0" lengthAdjust="spacingAndGlyphs">SIL (Weekly) 22.89</text><text x="28.3" y="383.1" font-size="8.3" fill="#2c2c34" textLength="60.9" lengthAdjust="spacingAndGlyphs">Volume 318,530</text><text x="193.3" y="26.6" font-size="10" font-weight="bold" textLength="25.1" lengthAdjust="spacingAndGlyphs">Open</text><text x="222" y="26.6" font-size="9.8" textLength="23.1" lengthAdjust="spacingAndGlyphs">34.08</text><text x="251.3" y="26.6" font-size="10" font-weight="bold" textLength="20.3" lengthAdjust="spacingAndGlyphs">High</text><text x="275.2" y="26.6" font-size="9.8" textLength="23.8" lengthAdjust="spacingAndGlyphs">34.49</text><text x="305" y="26.6" font-size="10" font-weight="bold" textLength="20.0" lengthAdjust="spacingAndGlyphs">Low</text><text x="329" y="26.6" font-size="9.8" textLength="23.2" lengthAdjust="spacingAndGlyphs">32.90</text><text x="358.2" y="26.6" font-size="10" font-weight="bold" textLength="27.8" lengthAdjust="spacingAndGlyphs">Close</text><text x="389.6" y="26.6" font-size="9.8" textLength="23.4" lengthAdjust="spacingAndGlyphs">33.60</text><text x="419" y="26.6" font-size="10" font-weight="bold" textLength="37.4" lengthAdjust="spacingAndGlyphs">Volume</text><text x="460" y="26.6" font-size="9.8" textLength="31.0" lengthAdjust="spacingAndGlyphs">318.5K</text><text x="496.5" y="26.6" font-size="10" font-weight="bold" textLength="18.1" lengthAdjust="spacingAndGlyphs">Chg</text><text x="518" y="26.6" font-size="9.8" textLength="59.6" lengthAdjust="spacingAndGlyphs">-0.46 (-1.35%)</text><text x="506.5" y="16.4" font-size="9.5" fill="#828282" textLength="79.9" lengthAdjust="spacingAndGlyphs">©StockCharts.com</text></g>
<path d="M580 22.2h6.2l-3.1 3.3z" fill="#a80c2c"/>
<path d="M19.1 293.2h6.3" stroke="#1a1a1a" stroke-width="1.7"/>
<g fill="#0a0a0a"><rect x="19.1" y="32.2" width="3.2" height="3.8"/><rect x="20.2" y="31.6" width="1" height="6.1"/>
<rect x="23.2" y="32" width="3.2" height="5.4"/><rect x="24.3" y="31.5" width="1" height="6.3"/></g>
<g fill="#1a1a1a"><rect x="18.9" y="379.2" width="1.7" height="3.8"/><rect x="21" y="376.2" width="1.8" height="6.8"/><rect x="23.2" y="377.4" width="1.8" height="5.6"/><rect x="25.3" y="379" width="1.7" height="4"/></g>

<rect x="231.9" y="38.3" width="285.3" height="134.3" fill="#00ffff" style="mix-blend-mode:difference"/>
<rect x="513" y="108.5" width="101.8" height="50.3" fill="#ff00ff" style="mix-blend-mode:difference"/>
<rect x="508.3" y="315.7" width="115.3" height="28.2" fill="#ff00ff" style="mix-blend-mode:difference"/>
<path d="M200.5 36.25L615.3 36.25" stroke="#f01414" stroke-width="4.1" stroke-dasharray="4 1.5" fill="none"/>
<path d="M125.2 176.0L614.8 176.0" stroke="#0f7f14" stroke-width="4.4" stroke-dasharray="3.2 2.2" fill="none"/>
<path d="M41.0 272.7L232 96.8" stroke="#0f7f14" stroke-width="4.1" stroke-dasharray="3.6 1.8" fill="none"/>
<path d="M232 96.8L290.8 42.7" stroke="#1c6ee6" stroke-width="4.2" stroke-dasharray="3.6 1.8" fill="none"/>
<path d="M321.3 109.05H512.9" stroke="#fff" stroke-width="2" stroke-dasharray="3.95 1.5" fill="none"/>
<path d="M512.9 109.05H614.8" stroke="#1414e0" stroke-width="2" stroke-dasharray="3.95 1.5" stroke-dashoffset="-1" fill="none"/>
<path d="M321.6 317.2L508.3 317.2" stroke="#f01414" stroke-width="4.1" stroke-dasharray="3.6 1.9" fill="none"/>
<path d="M508.3 317.2L606 317.2" stroke="#1414e0" stroke-width="4.1" stroke-dasharray="3.6 1.9" fill="none"/>
<path d="M353.3 335.8L458 355.6L505.5 352.7L535 343.9" stroke="#148c8c" stroke-width="4.1" stroke-dasharray="3.2 2.2" fill="none"/>
<path d="M535 343.9L580 331.2" stroke="#ee8c78" stroke-width="4.1" stroke-dasharray="3.2 2.2" fill="none"/>
<clipPath id="cp"><rect x="2" y="4" width="623.6" height="470.4"/></clipPath><g clip-path="url(#cp)">
<path d="M585 140L621.3 49.5" stroke="#10801a" stroke-width="3.8" stroke-linecap="round" fill="none"/>
<path d="M625.5 39.5L616 47.5L626.5 52.5z" fill="#10801a" stroke="#10801a" stroke-width="1.5" stroke-linejoin="round"/>
<path d="M589 330L599 305.5" stroke="#10801a" stroke-width="4" stroke-linecap="round" fill="none"/>
<path d="M602.2 297.2L593.2 306.2L604.8 308.2z" fill="#10801a" stroke="#10801a" stroke-width="1" stroke-linejoin="round"/>
</g>
<rect x="351" y="368" width="228.8" height="53.4" fill="#c4c4c4" opacity="0.8"/>
<rect x="349.8" y="366.7" width="228.5" height="53.2" fill="#fff" stroke="#9a9a9a" stroke-width="1"/>
<g font-size="13" font-weight="bold" fill="#333">
<text x="352.4" y="382" textLength="217" lengthAdjust="spacingAndGlyphs">Silver Miners Form Basing Pattern</text>
<text x="352.4" y="397.8" textLength="153" lengthAdjust="spacingAndGlyphs">- Possible Cup &amp; Handle</text>
<text x="352.4" y="413.4" textLength="95.5" lengthAdjust="spacingAndGlyphs">- First Bull Flag</text>
</g>
</svg>
</body></html>
